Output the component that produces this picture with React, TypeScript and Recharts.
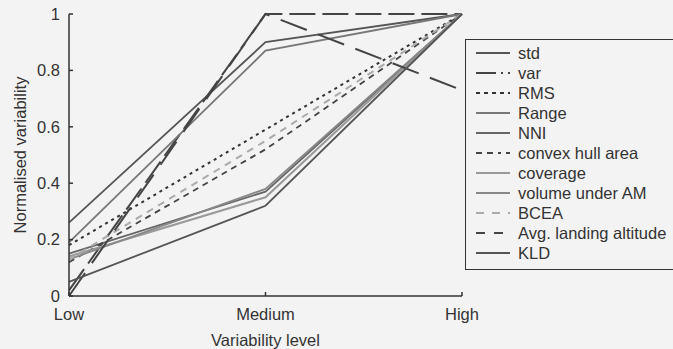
import React from 'react';
import { LineChart, Line, XAxis, YAxis } from 'recharts';

const levels = ['Low', 'Medium', 'High'];
const stdValues = [0.26, 0.9, 1];
const varValues = [0.02, 1, 1];
const rmsValues = [0.18, 0.59, 1];
const rangeValues = [0.19, 0.87, 1];
const nniValues = [0.15, 0.37, 1];
const convexHullValues = [0.12, 0.52, 1];
const coverageValues = [0.14, 0.35, 1];
const volumeValues = [0.13, 0.38, 1];
const bceaValues = [0.13, 0.55, 1];
const avgAltitudeValues = [0.0, 1, 0.73];
const kldValues = [0.05, 0.32, 1];
const yTicks = [0, 0.2, 0.4, 0.6, 0.8, 1];

const data = levels.map((level, i) => ({
  level,
  std: stdValues[i],
  var: varValues[i],
  RMS: rmsValues[i],
  Range: rangeValues[i],
  NNI: nniValues[i],
  convex: convexHullValues[i],
  coverage: coverageValues[i],
  volume: volumeValues[i],
  BCEA: bceaValues[i],
  avg: avgAltitudeValues[i],
  KLD: kldValues[i],
}));

const series = [
  { key: 'std', name: 'std', color: '#555', dash: undefined, legendDash: undefined, w: 1.8 },
  { key: 'var', name: 'var', color: '#444', dash: '26 7', legendDash: '20 5 2 5', w: 2 },
  { key: 'RMS', name: 'RMS', color: '#333', dash: '3 4', legendDash: '4 4', w: 2 },
  { key: 'Range', name: 'Range', color: '#777', dash: undefined, legendDash: undefined, w: 1.8 },
  { key: 'NNI', name: 'NNI', color: '#666', dash: undefined, legendDash: undefined, w: 1.8 },
  { key: 'convex', name: 'convex hull area', color: '#444', dash: '6 5', legendDash: '6 5 6 5 3 5', w: 1.8 },
  { key: 'coverage', name: 'coverage', color: '#999', dash: undefined, legendDash: undefined, w: 2 },
  { key: 'volume', name: 'volume under AM', color: '#888', dash: undefined, legendDash: undefined, w: 1.8 },
  { key: 'BCEA', name: 'BCEA', color: '#aaa', dash: '7 6', legendDash: '8 8', w: 2 },
  { key: 'avg', name: 'Avg. landing altitude', color: '#444', dash: '28 12', legendDash: '9 9', w: 2 },
  { key: 'KLD', name: 'KLD', color: '#555', dash: undefined, legendDash: undefined, w: 1.8 },
];

const FONT = '"Liberation Sans", Arial, Helvetica, sans-serif';

export default function App() {
  return (
    <div style={{ position: 'absolute', left: 0, top: 0, width: 673, height: 349, background: '#f3f3f3', overflow: 'hidden' }}>
      <LineChart
        width={673}
        height={349}
        data={data}
        margin={{ top: 14, right: 211, bottom: 0, left: 0 }}
        style={{ fontFamily: FONT }}
      >
        <XAxis
          dataKey="level"
          height={53}
          tickSize={-4}
          tickMargin={16}
          stroke="#333"
          strokeWidth={1.5}
          tick={{ fill: '#333', fontSize: 16.5, fontFamily: FONT }}
          interval={0}
          label={{ value: 'Variability level', position: 'insideBottom', offset: 3, fill: '#333', fontSize: 16.5, fontFamily: FONT }}
        />
        <YAxis
          width={69}
          domain={[0, 1]}
          ticks={yTicks}
          tickSize={-4}
          tickMargin={13}
          stroke="#333"
          strokeWidth={1.5}
          tick={{ fill: '#333', fontSize: 16.5, fontFamily: FONT }}
          interval={0}
          label={{ value: 'Normalised variability', angle: -90, position: 'insideLeft', offset: 20, fill: '#333', fontSize: 16.5, fontFamily: FONT, style: { textAnchor: 'middle' } }}
        />
        {series.map((s) => (
          <Line
            key={s.key}
            dataKey={s.key}
            name={s.name}
            stroke={s.color}
            strokeWidth={s.w}
            strokeDasharray={s.dash}
            dot={false}
            activeDot={false}
            isAnimationActive={false}
          />
        ))}
      </LineChart>
      <div
        style={{
          position: 'absolute',
          left: 465,
          top: 39,
          width: 215,
          height: 231,
          border: '1.5px solid #333',
          background: '#f3f3f3',
          boxSizing: 'border-box',
          fontFamily: FONT,
          fontSize: 16.5,
          color: '#333',
          paddingTop: 3,
        }}
      >
        {series.map((s) => (
          <div key={s.key} style={{ display: 'flex', alignItems: 'center', height: 20 }}>
            <svg width={50} height={20} style={{ flex: 'none' }}>
              <line x1={10} x2={44} y1={10} y2={10} stroke={s.color} strokeWidth={2} strokeDasharray={s.legendDash} />
            </svg>
            <span style={{ marginLeft: 2, whiteSpace: 'nowrap', lineHeight: '20px' }}>{s.name}</span>
          </div>
        ))}
      </div>
    </div>
  );
}
